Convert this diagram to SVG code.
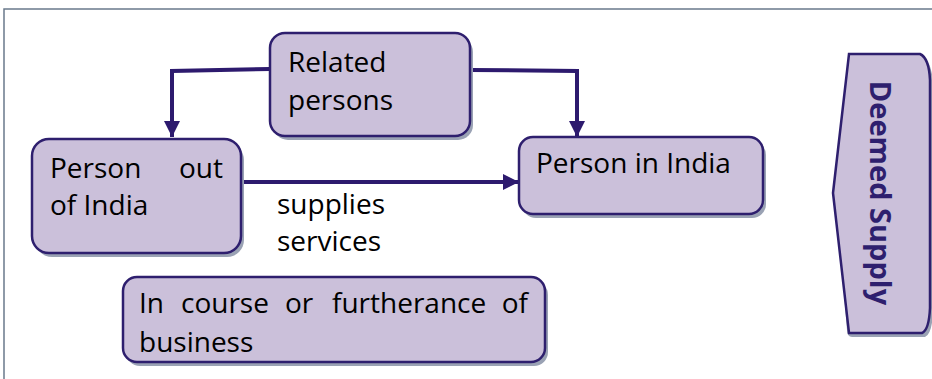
<svg xmlns="http://www.w3.org/2000/svg" xmlns:xlink="http://www.w3.org/1999/xlink" width="932" height="379" viewBox="0 0 932 379">
<defs>
<style>
.box{fill:#cbc0da;stroke:#2e1f6e;stroke-width:2.5}
.sh{fill:#9aa2b4}
.t{font-family:"Open Sans","Noto Sans",sans-serif;font-size:28px;fill:#000}
.b{font-family:"Open Sans","Noto Sans",sans-serif;font-size:29px;font-weight:bold;fill:#2e1f6e}
.c{fill:none;stroke:#2d1a6e;stroke-width:4}
.frame{fill:none;stroke:#6a7a8c;stroke-width:1.5}
</style>
<marker id="ah" viewBox="0 0 10 10" refX="10" refY="5" markerWidth="4" markerHeight="4" orient="auto" markerUnits="strokeWidth">
<path d="M0,0 L10,5 L0,10 z" fill="#2d1a6e"/>
</marker>
</defs>
<rect width="932" height="379" fill="#fff"/>
<path class="frame" d="M4,379 V9 H932"/>
<g id="connectors">
<path class="c" d="M270,69 L172,71 V137" marker-end="url(#ah)"/>
<path class="c" d="M470,70 L577,71 V137" marker-end="url(#ah)"/>
<path class="c" d="M241,182 H519" marker-end="url(#ah)"/>
</g>
<g id="related">
<rect class="sh" x="273" y="37" width="200" height="103" rx="15"/>
<rect class="box" x="270" y="33" width="200" height="103" rx="15"/>
<text class="t" x="288" y="72">Related</text>
<text class="t" x="288" y="110">persons</text>
</g>
<g id="out">
<rect class="sh" x="35" y="143" width="209" height="114" rx="17"/>
<rect class="box" x="32" y="139" width="209" height="114" rx="17"/>
<text class="t" x="50" y="178">Person</text>
<text class="t" x="223" y="178" text-anchor="end">out</text>
<text class="t" x="50" y="215">of India</text>
</g>
<g id="in">
<rect class="sh" x="522" y="141" width="244" height="77" rx="14"/>
<rect class="box" x="519" y="137" width="244" height="77" rx="14"/>
<text class="t" x="536" y="173">Person in India</text>
</g>
<g id="label">
<text class="t" x="277" y="214">supplies</text>
<text class="t" x="277" y="251">services</text>
</g>
<g id="course">
<rect class="sh" x="126" y="281" width="422" height="85" rx="14"/>
<rect class="box" x="123" y="277" width="422" height="85" rx="14"/>
<text class="t" y="313"><tspan x="139">In</tspan><tspan x="181">course</tspan><tspan x="285">or</tspan><tspan x="332">furtherance</tspan></text>
<text class="t" x="528" y="313" text-anchor="end">of</text>
<text class="t" x="139" y="352">business</text>
</g>
<g id="deemed">
<path class="sh" d="M852,58 H923 Q932,62 933,84 V312 Q932,334 925,337 H852 Q847,337 847,330 L836,197 L852,64 Z"/>
<path class="box" d="M849,54 H920 Q929,58 930,80 V308 Q929,330 922,333 H849 L849,333 L833,193 L849,54 Z"/>
<text class="b" transform="translate(881,193) rotate(90)" text-anchor="middle" dominant-baseline="central">Deemed Supply</text>
</g>
</svg>
